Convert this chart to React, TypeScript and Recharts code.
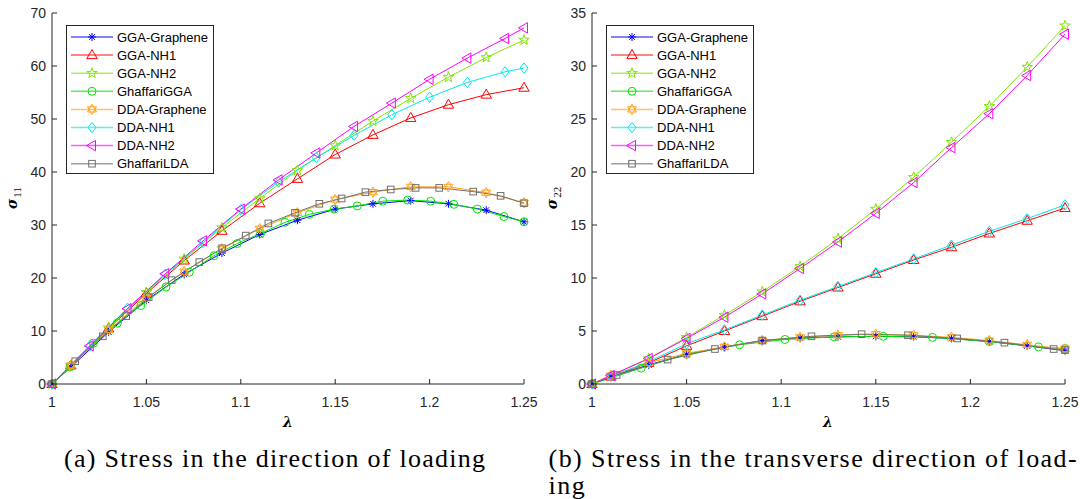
import React from 'react';
import { LineChart, Line, XAxis, YAxis } from 'recharts';

// ---------- data ----------
const xTicks = [1, 1.05, 1.1, 1.15, 1.2, 1.25];
const yTicks11 = [0, 10, 20, 30, 40, 50, 60, 70];
const yTicks22 = [0, 5, 10, 15, 20, 25, 30, 35];

const xOdd = [1, 1.01, 1.03, 1.05, 1.07, 1.09, 1.11, 1.13, 1.15, 1.17, 1.19, 1.21, 1.23, 1.25];
const xEven = [1, 1.02, 1.04, 1.06, 1.08, 1.1, 1.12, 1.14, 1.16, 1.18, 1.2, 1.22, 1.24, 1.25];

// sigma 11
const ggaGraphene11 = [0, 3.2, 9.8, 15.8, 20.7, 24.7, 28.2, 30.9, 33.0, 34.0, 34.6, 34.0, 32.8, 30.6];
const ggaNH1_11 = [0, 3.5, 10.5, 17.1, 23.3, 28.9, 34.1, 38.7, 43.3, 47.0, 50.2, 52.7, 54.6, 55.9];
const ggaNH2_11 = [0, 3.5, 10.6, 17.3, 23.6, 29.5, 35.0, 40.3, 45.0, 49.6, 53.9, 57.9, 61.6, 64.9];
const ddaGraphene11 = [0, 3.5, 10.2, 16.2, 21.2, 25.5, 29.3, 32.3, 34.8, 36.2, 37.2, 37.2, 36.1, 34.2];
const ddaNH1_11 = [0, 7.2, 14.3, 20.7, 26.7, 32.9, 38.1, 42.7, 46.9, 50.8, 54.1, 56.9, 58.9, 59.6];
const ddaNH2_11 = [0, 7.2, 14.2, 20.8, 27.0, 33.0, 38.5, 43.6, 48.6, 53.0, 57.5, 61.5, 65.2, 67.2];
const ghaffariGGA11X = [1, 1.0095, 1.0219, 1.0346, 1.0471, 1.0604, 1.0727, 1.0858, 1.0981, 1.1105, 1.1234, 1.1363, 1.1495, 1.1617, 1.1752, 1.1884, 1.2006, 1.2129, 1.2253, 1.2394, 1.25];
const ghaffariGGA11Y = [0, 3.2, 7.7, 11.5, 14.8, 18.3, 21.1, 24.2, 26.5, 28.4, 30.5, 32.0, 33.0, 33.6, 34.5, 34.7, 34.5, 33.9, 33.0, 31.6, 30.6];
const ghaffariLDA11X = [1, 1.0123, 1.0269, 1.0393, 1.0512, 1.0634, 1.078, 1.0901, 1.1026, 1.1146, 1.1287, 1.1416, 1.1534, 1.166, 1.1794, 1.1926, 1.2051, 1.2231, 1.2376, 1.25];
const ghaffariLDA11Y = [0, 4.3, 9.0, 12.8, 16.4, 19.6, 23.0, 25.6, 28.0, 30.3, 32.3, 34.0, 35.0, 36.2, 36.7, 37.0, 37.0, 36.3, 35.5, 34.1];

// sigma 22
const ggaGraphene22 = [0, 0.7, 1.8, 2.8, 3.5, 4.1, 4.35, 4.45, 4.5, 4.45, 4.3, 4.0, 3.6, 3.15];
const ggaNH1_22 = [0, 0.7, 2.0, 3.6, 5.0, 6.4, 7.8, 9.1, 10.4, 11.7, 12.9, 14.2, 15.4, 16.6];
const ggaNH2_22 = [0, 0.8, 2.4, 4.4, 6.5, 8.7, 11.1, 13.7, 16.5, 19.5, 22.8, 26.2, 29.9, 33.8];
const ddaGraphene22 = [0, 0.8, 2.0, 2.9, 3.5, 4.1, 4.4, 4.6, 4.7, 4.6, 4.4, 4.1, 3.7, 3.3];
const ddaNH1_22 = [0, 0.7, 2.1, 3.8, 5.1, 6.5, 7.9, 9.2, 10.5, 11.8, 13.1, 14.4, 15.6, 16.9];
const ddaNH2_22 = [0, 0.8, 2.4, 4.3, 6.3, 8.5, 10.9, 13.4, 16.1, 19.0, 22.3, 25.5, 29.1, 33.0];
const ghaffariGGA22X = [1, 1.026, 1.05, 1.078, 1.102, 1.128, 1.154, 1.18, 1.21, 1.236, 1.25];
const ghaffariGGA22Y = [0, 1.5, 2.8, 3.7, 4.2, 4.45, 4.5, 4.4, 4.0, 3.5, 3.35];
const ghaffariLDA22X = [1, 1.013, 1.04, 1.065, 1.09, 1.116, 1.1425, 1.167, 1.193, 1.218, 1.244, 1.25];
const ghaffariLDA22Y = [0, 0.85, 2.3, 3.3, 4.1, 4.5, 4.7, 4.6, 4.3, 3.9, 3.3, 3.2];

const seriesNames = ['GGA-Graphene', 'GGA-NH1', 'GGA-NH2', 'GhaffariGGA', 'DDA-Graphene', 'DDA-NH1', 'DDA-NH2', 'GhaffariLDA'];
const seriesColors = ['#0000ff', '#ff0000', '#7ee600', '#00e600', '#ffa31a', '#00e8f0', '#ff00ff', '#707070'];
const seriesShapes = ['asterisk', 'triangle', 'pentagram', 'circle', 'hexagram', 'diamond', 'left', 'square'];

const zip = (xs: number[], ys: number[]) => xs.map((x, i) => ({ x, y: ys[i] }));

const data11 = [
  zip(xOdd, ggaGraphene11),
  zip(xOdd, ggaNH1_11),
  zip(xOdd, ggaNH2_11),
  zip(ghaffariGGA11X, ghaffariGGA11Y),
  zip(xOdd, ddaGraphene11),
  zip(xEven, ddaNH1_11),
  zip(xEven, ddaNH2_11),
  zip(ghaffariLDA11X, ghaffariLDA11Y),
];
const data22 = [
  zip(xOdd, ggaGraphene22),
  zip(xOdd, ggaNH1_22),
  zip(xOdd, ggaNH2_22),
  zip(ghaffariGGA22X, ghaffariGGA22Y),
  zip(xOdd, ddaGraphene22),
  zip(xOdd, ddaNH1_22),
  zip(xOdd, ddaNH2_22),
  zip(ghaffariLDA22X, ghaffariLDA22Y),
];

// ---------- styling ----------
const AX = '#262626';
const SANS = '"Liberation Sans", Arial, Helvetica, sans-serif';

function Marker({ shape, cx, cy, color }: { shape: string; cx: number; cy: number; color: string }) {
  const common = { fill: 'none', stroke: color, strokeWidth: 1 };
  if (cx == null || cy == null || isNaN(cx) || isNaN(cy)) return <g />;
  switch (shape) {
    case 'asterisk': {
      const r = 4;
      const d = r * 0.72;
      return (
        <path {...common} d={`M${cx - r},${cy}L${cx + r},${cy}M${cx},${cy - r}L${cx},${cy + r}M${cx - d},${cy - d}L${cx + d},${cy + d}M${cx - d},${cy + d}L${cx + d},${cy - d}`} />
      );
    }
    case 'triangle':
      return <polygon {...common} points={`${cx},${cy - 5.5} ${cx - 5.2},${cy + 3.5} ${cx + 5.2},${cy + 3.5}`} />;
    case 'left':
      return <polygon {...common} points={`${cx - 5.5},${cy} ${cx + 3.5},${cy - 5.2} ${cx + 3.5},${cy + 5.2}`} />;
    case 'circle':
      return <circle {...common} cx={cx} cy={cy} r={4} />;
    case 'square':
      return <rect {...common} x={cx - 3.3} y={cy - 3.3} width={6.6} height={6.6} />;
    case 'diamond':
      return <polygon {...common} points={`${cx},${cy - 5.2} ${cx + 4},${cy} ${cx},${cy + 5.2} ${cx - 4},${cy}`} />;
    case 'pentagram': {
      const pts: string[] = [];
      for (let i = 0; i < 10; i++) {
        const r = i % 2 === 0 ? 5.5 : 2.2;
        const a = -Math.PI / 2 + (i * Math.PI) / 5;
        pts.push(`${cx + r * Math.cos(a)},${cy + r * Math.sin(a)}`);
      }
      return <polygon {...common} points={pts.join(' ')} />;
    }
    case 'hexagram': {
      const r = 5.2;
      const h = r * 0.5;
      const w = r * 0.866;
      return (
        <g>
          <polygon {...common} points={`${cx},${cy - r} ${cx + w},${cy + h} ${cx - w},${cy + h}`} />
          <polygon {...common} points={`${cx},${cy + r} ${cx + w},${cy - h} ${cx - w},${cy - h}`} />
        </g>
      );
    }
    default:
      return <g />;
  }
}

const fmtX = (v: number) => String(Number(v.toFixed(2)));

const BottomTick = (props: any) => {
  const { x, y, payload } = props;
  return (
    <g>
      <line x1={x} x2={x} y1={y} y2={y - 5} stroke={AX} />
      <text x={x} y={y + 23} textAnchor="middle" fontSize={14} fill={AX} fontFamily={SANS}>
        {fmtX(payload.value)}
      </text>
    </g>
  );
};
const TopTick = (props: any) => {
  const { x, y } = props;
  return <line x1={x} x2={x} y1={y} y2={y + 5} stroke={AX} />;
};
const LeftTick = (props: any) => {
  const { x, y, payload } = props;
  return (
    <g>
      <line x1={x} x2={x + 5} y1={y} y2={y} stroke={AX} />
      <text x={x - 6} y={y + 5} textAnchor="end" fontSize={14} fill={AX} fontFamily={SANS}>
        {payload.value}
      </text>
    </g>
  );
};
const RightTick = (props: any) => {
  const { x, y } = props;
  return <line x1={x - 5} x2={x} y1={y} y2={y} stroke={AX} />;
};

function Panel({ data, yMax, yTicks, right }: { data: { x: number; y: number }[][]; yMax: number; yTicks: number[]; right: number }) {
  return (
    <LineChart width={540} height={420} margin={{ top: 13, right, left: 12, bottom: 0 }}>
      <XAxis type="number" dataKey="x" domain={[1, 1.25]} ticks={xTicks} interval={0} height={36}
        tickLine={false} tickSize={0} tickMargin={0} axisLine={{ stroke: AX }} tick={BottomTick} />
      <XAxis xAxisId="top" orientation="top" type="number" dataKey="x" domain={[1, 1.25]} ticks={xTicks} interval={0} height={0}
        tickLine={false} tickSize={0} tickMargin={0} axisLine={{ stroke: AX }} tick={TopTick} />
      <YAxis type="number" domain={[0, yMax]} ticks={yTicks} interval={0} width={40}
        tickLine={false} tickSize={0} tickMargin={0} axisLine={{ stroke: AX }} tick={LeftTick} />
      <YAxis yAxisId="right" orientation="right" type="number" domain={[0, yMax]} ticks={yTicks} interval={0} width={0}
        tickLine={false} tickSize={0} tickMargin={0} axisLine={{ stroke: AX }} tick={RightTick} />
      {data.map((d, i) => (
        <Line
          key={seriesNames[i]}
          name={seriesNames[i]}
          data={d}
          dataKey="y"
          type="linear"
          stroke={seriesColors[i]}
          strokeWidth={1}
          isAnimationActive={false}
          activeDot={false}
          dot={(p: any) => (
            <Marker key={`${i}-${p.index}`} shape={seriesShapes[i]} cx={p.cx} cy={p.cy} color={seriesColors[i]} />
          )}
        />
      ))}
    </LineChart>
  );
}

function Legend({ ox }: { ox: number }) {
  return (
    <g>
      <rect x={ox + 66.5} y={25.5} width={147} height={148} fill="#fff" stroke={AX} strokeWidth={1} />
      {seriesNames.map((n, i) => {
        const y = 37 + i * 18.1;
        return (
          <g key={n}>
            <line x1={ox + 71} x2={ox + 113} y1={y} y2={y} stroke={seriesColors[i]} strokeWidth={1.5} strokeOpacity={0.65} />
            <Marker shape={seriesShapes[i]} cx={ox + 92} cy={y} color={seriesColors[i]} />
            <text x={ox + 117} y={y + 4.6} fontSize={13} fontFamily={SANS} fill="#000">{n}</text>
          </g>
        );
      })}
    </g>
  );
}

function AxisLabels({ ox, sub }: { ox: number; sub: string }) {
  return (
    <g>
      <text transform={`translate(${ox + 17},198) rotate(-90)`} textAnchor="middle" fill="#000">
        <tspan fontFamily='"DejaVu Serif", serif' fontStyle="italic" fontWeight="bold" fontSize={14}>σ</tspan>
        <tspan fontFamily='"Liberation Serif", serif' fontSize={11} dy={4} dx={1}>{sub}</tspan>
      </text>
      <text x={ox + 288} y={427} textAnchor="middle" fontFamily='"DejaVu Serif", serif' fontStyle="italic" fontWeight="bold" fontSize={14} fill="#000">λ</text>
    </g>
  );
}

export default function App() {
  const serif = '"Liberation Serif", "Times New Roman", serif';
  return (
    <div style={{ position: 'absolute', left: 0, top: 0, width: 1080, height: 499, background: '#fff', overflow: 'hidden' }}>
      <div style={{ position: 'absolute', left: 0, top: 0 }}>
        <Panel data={data11} yMax={70} yTicks={yTicks11} right={16} />
      </div>
      <div style={{ position: 'absolute', left: 540, top: 0 }}>
        <Panel data={data22} yMax={35} yTicks={yTicks22} right={15} />
      </div>
      <svg width={1080} height={499} style={{ position: 'absolute', left: 0, top: 0, pointerEvents: 'none' }}>
        <Legend ox={0} />
        <Legend ox={540} />
        <AxisLabels ox={0} sub="11" />
        <AxisLabels ox={540} sub="22" />
        <text x={64} y={467} fontFamily={serif} fontSize={26} fill="#000" textLength={421} lengthAdjust="spacing">
          (a) Stress in the direction of loading
        </text>
        <text x={548.6} y={467} fontFamily={serif} fontSize={26} fill="#000" textLength={528} lengthAdjust="spacing">
          (b) Stress in the transverse direction of load-
        </text>
        <text x={548.6} y={493.5} fontFamily={serif} fontSize={26} fill="#000" letterSpacing={1.5}>
          ing
        </text>
      </svg>
    </div>
  );
}
